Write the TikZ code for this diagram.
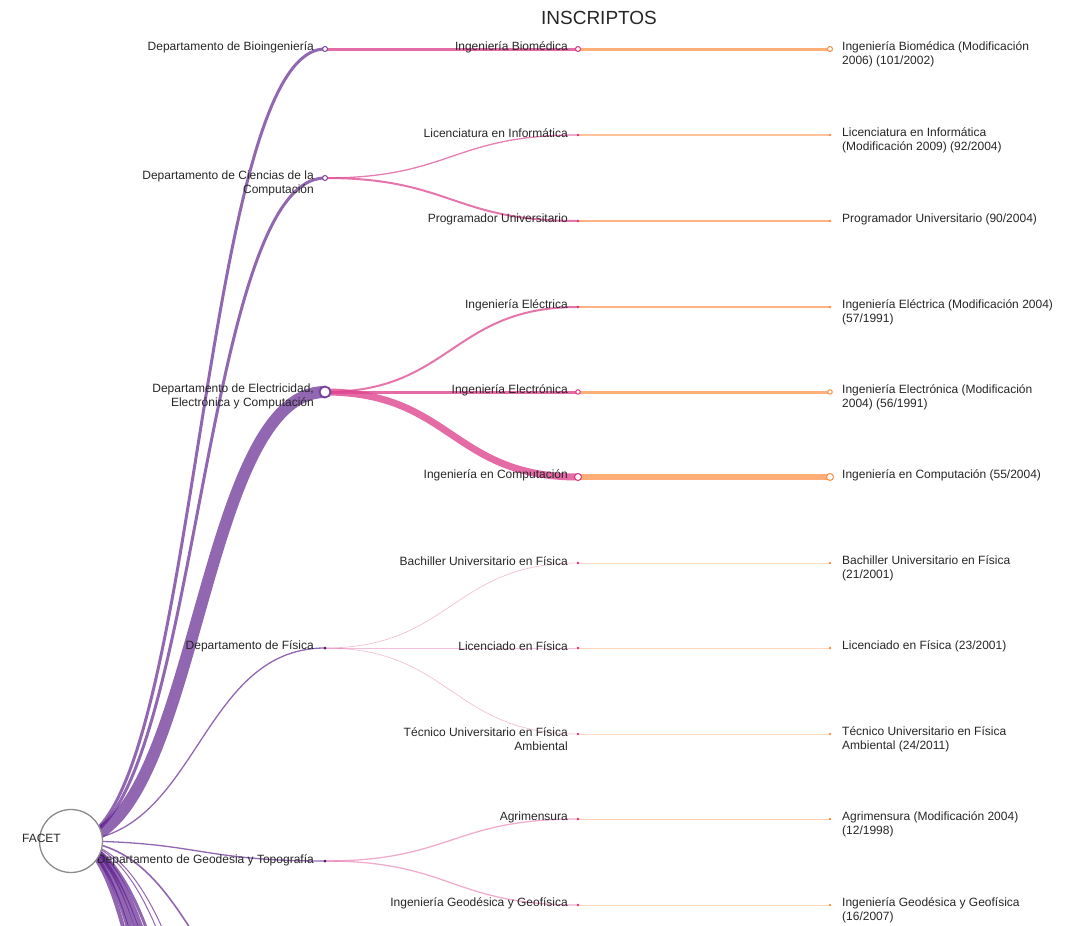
\documentclass[tikz,border=0pt]{standalone}
\usepackage{fontspec}
\setmainfont{Liberation Sans}
\usetikzlibrary{backgrounds}
\definecolor{inkc}{HTML}{262626}
\definecolor{rootc}{HTML}{8C8C8C}
\definecolor{depc}{HTML}{5E1F8E}
\definecolor{depdot}{HTML}{4A1570}
\definecolor{carc}{HTML}{DE4691}
\definecolor{cardot}{HTML}{E0307F}
\definecolor{planc}{HTML}{FF9A55}
\definecolor{plandot}{HTML}{FF8C40}
\tikzset{
  root/.style={circle, draw=rootc, line width=1.3pt, fill=white, minimum size=63pt, inner sep=0pt},
  dep/.style={circle, fill=depdot, minimum size=3pt, inner sep=0pt},
  depo/.style={circle, draw=depc!85, fill=white, line width=1pt, minimum size=5pt, inner sep=0pt},
  depbig/.style={depo, line width=1.8pt, minimum size=11pt},
  car/.style={circle, fill=cardot, minimum size=2.6pt, inner sep=0pt},
  caro/.style={circle, draw=cardot, fill=white, line width=1pt, minimum size=#1, inner sep=0pt},
  plan/.style={circle, fill=plandot, minimum size=2.6pt, inner sep=0pt},
  plano/.style={circle, draw=plandot, fill=white, line width=1pt, minimum size=#1, inner sep=0pt},
  lbl/.style={font=\fontsize{12}{14}\selectfont, text=inkc, inner sep=0pt},
  lft/.style={lbl, anchor=east, align=right},
  rgt/.style={lbl, anchor=west, align=left},
  ttl/.style={font=\fontsize{19}{22}\selectfont, text=inkc, inner sep=0pt},
  uplk/.style={draw=depc, draw opacity=.68},
  midlk/.style={draw=carc},
  endlk/.style={draw=planc}
}
\begin{document}
\begin{tikzpicture}[x=1pt, y=-1pt]
	\useasboundingbox (0,0) rectangle (1088,926);
	% title
	\node[ttl] (ttl) at (599,18) {INSCRIPTOS};
	% departamentos
	\node[depo] (bio) at (325,49) {};
	\node[depo] (cco) at (325,178) {};
	\node[depbig] (ele) at (325,392) {};
	\node[dep] (fis) at (325,648) {};
	\node[dep] (geo) at (325,861) {};
	% departamentos fuera del area visible
	\foreach \n/\y in {dpA/1040, dpB/1200, dpC/1260, dpD/1400, dpE/1500, dpF/1600, dpG/1750, dpH/1900, dpI/2100}
		\coordinate (\n) at (325,\y);
	\node[lft] (bio-l) at ([shift={(-11,-2)}]bio.center) {Departamento de Bioingeniería};
	\node[lft] (cco-l) at ([shift={(-11,5)}]cco.center) {Departamento de Ciencias de la\\Computación};
	\node[lft] (ele-l) at ([shift={(-11,4)}]ele.center) {Departamento de Electricidad,\\Electrónica y Computación};
	\node[lft] (fis-l) at ([shift={(-11,-2)}]fis.center) {Departamento de Física};
	\node[lft] (geo-l) at ([shift={(-11,-1)}]geo.center) {Departamento de Geodesia y Topografía};
	% carreras
	\node[caro=5pt] (ibm) at (578,49) {};
	\node[car] (lin) at (578,135) {};
	\node[car] (pro) at (578,221) {};
	\node[car] (iel) at (578,307) {};
	\node[caro=4.5pt] (ien) at (578,392) {};
	\node[caro=7pt] (ico) at (578,477) {};
	\node[car] (bac) at (578,563) {};
	\node[car] (lfi) at (578,648) {};
	\node[car] (tec) at (578,734) {};
	\node[car] (agr) at (578,819) {};
	\node[car] (igg) at (578,905) {};
	\node[lft] (ibm-l) at ([shift={(-10,-2)}]ibm.center) {Ingeniería Biomédica};
	\node[lft] (lin-l) at ([shift={(-10,-2)}]lin.center) {Licenciatura en Informática};
	\node[lft] (pro-l) at ([shift={(-10,-2)}]pro.center) {Programador Universitario};
	\node[lft] (iel-l) at ([shift={(-10,-2)}]iel.center) {Ingeniería Eléctrica};
	\node[lft] (ien-l) at ([shift={(-10,-2)}]ien.center) {Ingeniería Electrónica};
	\node[lft] (ico-l) at ([shift={(-10,-2)}]ico.center) {Ingeniería en Computación};
	\node[lft] (bac-l) at ([shift={(-10,-2)}]bac.center) {Bachiller Universitario en Física};
	\node[lft] (lfi-l) at ([shift={(-10,-2)}]lfi.center) {Licenciado en Física};
	\node[lft] (tec-l) at ([shift={(-10,5)}]tec.center) {Técnico Universitario en Física\\Ambiental};
	\node[lft] (agr-l) at ([shift={(-10,-2)}]agr.center) {Agrimensura};
	\node[lft] (igg-l) at ([shift={(-10,-2)}]igg.center) {Ingeniería Geodésica y Geofísica};
	% planes
	\node[plano=5pt] (pibm) at (830,49) {};
	\node[plan] (plin) at (830,135) {};
	\node[plan] (ppro) at (830,221) {};
	\node[plan] (piel) at (830,307) {};
	\node[plano=4.5pt] (pien) at (830,392) {};
	\node[plano=7pt] (pico) at (830,477) {};
	\node[plan] (pbac) at (830,563) {};
	\node[plan] (plfi) at (830,648) {};
	\node[plan] (ptec) at (830,734) {};
	\node[plan] (pagr) at (830,819) {};
	\node[plan] (pigg) at (830,905) {};
	\node[rgt] (pibm-l) at ([shift={(12,5)}]pibm.center) {Ingeniería Biomédica (Modificación\\2006) (101/2002)};
	\node[rgt] (plin-l) at ([shift={(12,5)}]plin.center) {Licenciatura en Informática\\(Modificación 2009) (92/2004)};
	\node[rgt] (ppro-l) at ([shift={(12,-2)}]ppro.center) {Programador Universitario (90/2004)};
	\node[rgt] (piel-l) at ([shift={(12,5)}]piel.center) {Ingeniería Eléctrica (Modificación 2004)\\(57/1991)};
	\node[rgt] (pien-l) at ([shift={(12,5)}]pien.center) {Ingeniería Electrónica (Modificación\\2004) (56/1991)};
	\node[rgt] (pico-l) at ([shift={(12,-2)}]pico.center) {Ingeniería en Computación (55/2004)};
	\node[rgt] (pbac-l) at ([shift={(12,5)}]pbac.center) {Bachiller Universitario en Física\\(21/2001)};
	\node[rgt] (plfi-l) at ([shift={(12,-2)}]plfi.center) {Licenciado en Física (23/2001)};
	\node[rgt] (ptec-l) at ([shift={(12,5)}]ptec.center) {Técnico Universitario en Física\\Ambiental (24/2011)};
	\node[rgt] (pagr-l) at ([shift={(12,5)}]pagr.center) {Agrimensura (Modificación 2004)\\(12/1998)};
	\node[rgt] (pigg-l) at ([shift={(12,5)}]pigg.center) {Ingeniería Geodésica y Geofísica\\(16/2007)};
	% root (over the geodesia label)
	\node[root] (facet) at (71,841) {};
	\node[lft] (facet-l) at ([shift={(-10,-3)}]facet.center) {FACET};
	% links
	\begin{pgfonlayer}{background}
		\clip (0,0) rectangle (1088,926);
		\foreach \d/\w in {bio/3, cco/3, ele/12, fis/1.3, geo/1.3, dpA/1.6, dpB/1, dpC/1, dpD/3, dpE/5, dpF/4, dpG/6, dpH/3, dpI/4}
			\draw[uplk, line width=\w pt] (facet.center) .. controls +(127,0) and +(-127,0) .. (\d.center);
		\foreach \a/\b/\w/\o in {bio/ibm/3/.8, cco/lin/1.3/.7, cco/pro/2/.75, ele/iel/2/.75, ele/ien/3/.8, ele/ico/7/.8,
				fis/bac/.7/.35, fis/lfi/1/.35, fis/tec/.7/.35, geo/agr/1.3/.45, geo/igg/1.3/.45}
			\draw[midlk, line width=\w pt, draw opacity=\o] (\a.center) .. controls +(126,0) and +(-126,0) .. (\b.center);
		\foreach \a/\b/\w/\o in {ibm/pibm/3/.8, lin/plin/1.2/.6, pro/ppro/2/.75, iel/piel/2/.75, ien/pien/3/.8, ico/pico/6/.8,
				bac/pbac/.6/.35, lfi/plfi/.8/.4, tec/ptec/.6/.35, agr/pagr/1/.45, igg/pigg/1/.4}
			\draw[endlk, line width=\w pt, draw opacity=\o] (\a.center) -- (\b.center);
	\end{pgfonlayer}
\end{tikzpicture}
\end{document}
